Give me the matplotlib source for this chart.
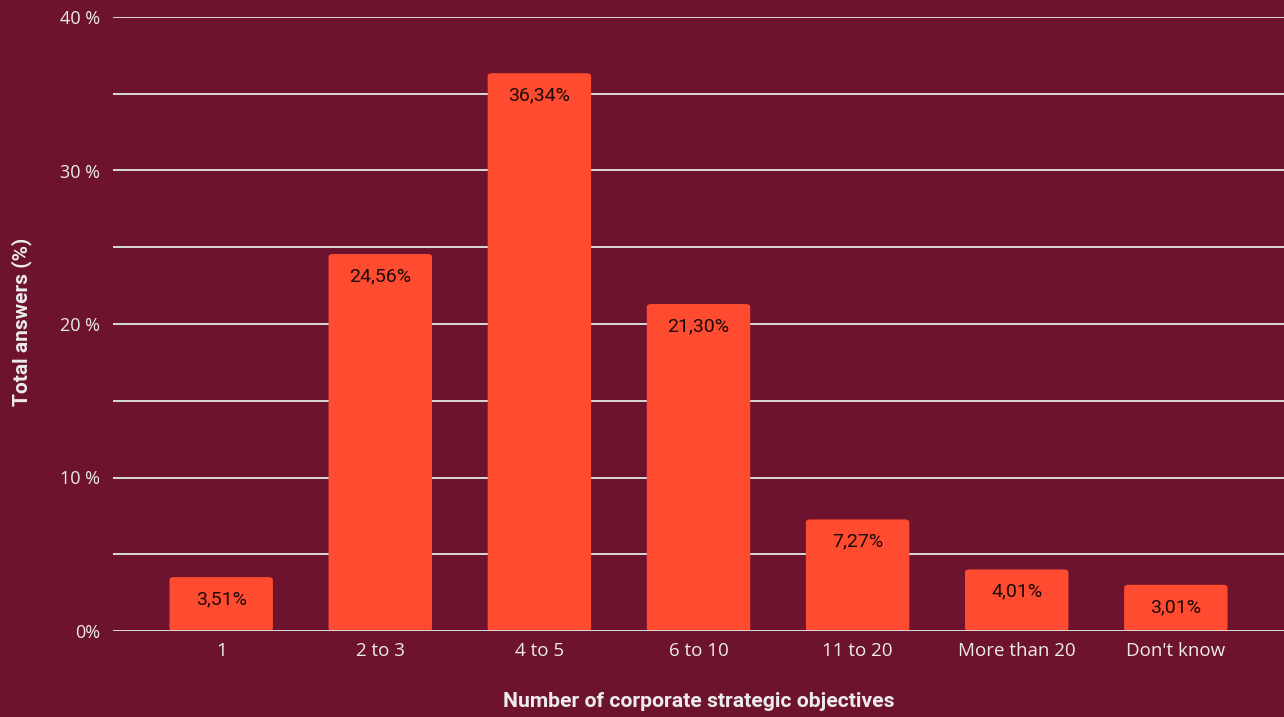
import matplotlib.pyplot as plt
from matplotlib.patches import FancyBboxPatch

categories = ["1", "2 to 3", "4 to 5", "6 to 10", "11 to 20", "More than 20", "Don't know"]
values = [3.51, 24.56, 36.34, 21.30, 7.27, 4.01, 3.01]
y_ticks = [0, 5, 10, 15, 20, 25, 30, 35, 40]
y_tick_labels = ["0%", "", "10 %", "", "20 %", "", "30 %", "", "40 %"]

BG = "#6e132d"
BAR = "#ff4b2f"
GRID = "#d9d9d9"
TXT = "#ececec"

fig = plt.figure(figsize=(12.84, 7.17), dpi=100, facecolor=BG)
ax = fig.add_axes([113 / 1284, 1 - 631 / 717, 1171 / 1284, 614 / 717])
ax.set_facecolor(BG)

ax.set_xlim(-0.68, len(categories) - 0.32)
ax.set_ylim(0, 40)

for y in y_ticks:
    ax.axhline(y, color=GRID, lw=1.4, zorder=1)

width = 0.65
for i, v in enumerate(values):
    # rounded bars, radius kept small
    patch = FancyBboxPatch((i - width / 2, 0), width, v,
                           boxstyle="round,pad=0,rounding_size=0.03",
                           mutation_aspect=6.0,
                           fc=BAR, ec="none", zorder=2)
    ax.add_patch(patch)
    ax.annotate(f"{v:.2f}%".replace(".", ","), (i, v), xytext=(0, -16),
                textcoords="offset points", ha="center", va="center",
                fontsize=14, family="Roboto", color="#1a0a0a", zorder=3)
ax.axhline(0, color=GRID, lw=1.4, zorder=4)

ax.set_xticks(range(len(categories)))
ax.set_xticklabels(categories, family="Open Sans", fontsize=13.5, color=TXT)
ax.set_yticks(y_ticks)
ax.set_yticklabels(y_tick_labels, family="Open Sans", fontsize=13, color=TXT)
ax.tick_params(axis="x", length=0, pad=8)
ax.tick_params(axis="y", length=0, pad=9)

for s in ax.spines.values():
    s.set_visible(False)

ax.set_xlabel("Number of corporate strategic objectives", family="Roboto",
              fontweight="bold", fontsize=15.2, color=TXT, labelpad=23)
fig.text(22 / 1284, 1 - 322 / 717, "Total answers (%)", rotation=90,
         ha="center", va="center", family="Roboto",
         fontweight="bold", fontsize=15, color=TXT)

fig.savefig("out.png", dpi=100, facecolor=BG)
